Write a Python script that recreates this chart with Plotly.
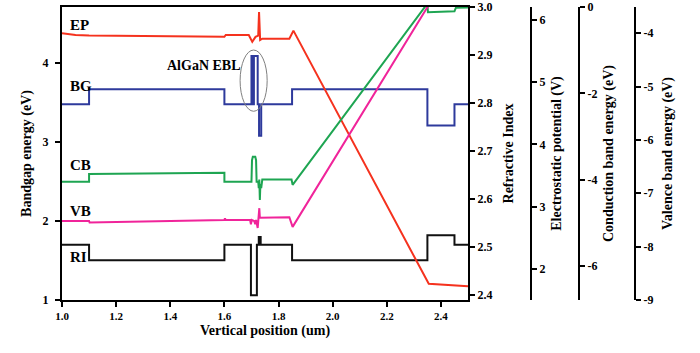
import plotly.graph_objects as go

# ---- data ----
bg_x = [1.0, 1.1, 1.1, 1.6, 1.6, 1.700, 1.700, 1.704, 1.704, 1.709, 1.709, 1.723, 1.723,
        1.728, 1.728, 1.736, 1.736, 1.85, 1.85, 2.35, 2.35, 2.45, 2.45, 2.5]
bg_y = [3.48, 3.48, 3.67, 3.67, 3.48, 3.48, 4.09, 4.09, 3.48, 3.48, 4.09, 4.09, 3.48,
        3.48, 3.08, 3.08, 3.48, 3.48, 3.67, 3.67, 3.21, 3.21, 3.48, 3.48]

ep_x = [1.00, 1.05, 1.10, 1.60, 1.605, 1.69, 1.703, 1.715, 1.725, 1.728, 1.732, 1.74,
        1.84, 1.855, 2.355, 2.45, 2.50]
ep_y = [5.79, 5.76, 5.75, 5.73, 5.76, 5.76, 5.65, 5.73, 5.75, 6.13, 5.68, 5.70,
        5.70, 5.83, 1.76, 1.73, 1.72]

cb_x = [1.0, 1.1, 1.1, 1.6, 1.6, 1.700, 1.702, 1.705, 1.714, 1.717, 1.719, 1.725, 1.727,
        1.729, 1.731, 1.733, 1.736, 1.74, 1.848, 1.852, 2.35, 2.352, 2.45, 2.455, 2.5]
cb_y = [-4.05, -4.05, -3.87, -3.84, -4.05, -4.05, -3.55, -3.47, -3.47, -3.55, -4.05, -4.05, -4.2,
        -4.0, -4.47, -4.1, -4.2, -4.0, -4.0, -4.12, 0.08, -0.12, -0.10, -0.02, -0.01]

vb_x = [1.0, 1.1, 1.102, 1.6, 1.602, 1.605, 1.695, 1.698, 1.701, 1.71, 1.714, 1.717, 1.723,
        1.726, 1.729, 1.731, 1.74, 1.84, 1.852, 2.36]
vb_y = [-7.52, -7.52, -7.55, -7.50, -7.47, -7.50, -7.50, -7.58, -7.50, -7.52, -7.58, -7.50, -7.65,
        -7.50, -7.28, -7.46, -7.46, -7.45, -7.63, -3.43]

ri_x = [1.0, 1.1, 1.1, 1.6, 1.6, 1.698, 1.698, 1.72, 1.72, 1.727, 1.727, 1.729, 1.729,
        1.732, 1.732, 1.734, 1.734, 1.85, 1.85, 2.35, 2.35, 2.45, 2.45, 2.5]
ri_y = [2.505, 2.505, 2.473, 2.473, 2.505, 2.505, 2.40, 2.40, 2.505, 2.505, 2.521, 2.521, 2.505,
        2.505, 2.521, 2.521, 2.505, 2.505, 2.473, 2.473, 2.525, 2.525, 2.505, 2.505]

cb_ticks = [0, -2, -4, -6]
cb_ticklabels = ["0", "-2", "-4", "-6"]
vb_ticks = [-4, -5, -6, -7, -8, -9]
vb_ticklabels = ["-4", "-5", "-6", "-7", "-8", "-9"]

labels = ["EP", "BG", "CB", "VB", "RI"]
label_y = [4.48, 3.71, 2.71, 2.13, 1.54]

FONT = "Liberation Serif"
LW = 2

fig = go.Figure()
fig.add_trace(go.Scatter(x=bg_x, y=bg_y, mode="lines", line=dict(color="#2e3a9c", width=LW), yaxis="y"))
fig.add_trace(go.Scatter(x=ri_x, y=ri_y, mode="lines", line=dict(color="#111111", width=LW), yaxis="y2"))
fig.add_trace(go.Scatter(x=ep_x, y=ep_y, mode="lines", line=dict(color="#f5321e", width=LW), yaxis="y3"))
fig.add_trace(go.Scatter(x=cb_x, y=cb_y, mode="lines", line=dict(color="#1ea552", width=LW), yaxis="y4"))
fig.add_trace(go.Scatter(x=vb_x, y=vb_y, mode="lines", line=dict(color="#f0249a", width=LW), yaxis="y5"))

xtickfont = dict(family=FONT, size=11, color="black", weight="bold")
ytickfont = dict(family=FONT, size=12, color="black", weight="bold")
titlefont = dict(family=FONT, size=14, color="black", weight="bold")
common = dict(showline=True, linecolor="black", linewidth=2, ticks="outside", ticklen=5,
              tickwidth=1.5, tickcolor="black", showgrid=False, zeroline=False,
              automargin=False)

L, R, T, B = 62, 15, 7, 53
W = 700 - L - R
def pos(px):
    return (px - L) / W

fig.update_layout(
    width=700, height=353,
    margin=dict(l=L, r=R, t=T, b=B),
    paper_bgcolor="white", plot_bgcolor="white",
    showlegend=False,
    xaxis=dict(domain=[0, pos(468)], range=[1.0, 2.5], dtick=0.2, tick0=1.0, tickformat=".1f",
               mirror=True, tickfont=xtickfont,
               title=dict(text="Vertical position (um)", font=titlefont, standoff=4),
               **common),
    yaxis=dict(range=[1, 4.71], dtick=1, tickfont=ytickfont, ticklabelstandoff=4,
               title=dict(text="Bandgap energy (eV)", font=titlefont, standoff=8), **common),
    yaxis2=dict(overlaying="y", side="right", anchor="x", range=[2.39, 3.0], dtick=0.1,
                tickformat=".1f", tickfont=ytickfont,
                title=dict(text="Refractive Index", font=titlefont, standoff=12),
                **common),
    yaxis3=dict(overlaying="y", side="right", anchor="free", position=pos(531),
                range=[1.5, 6.21], dtick=1, tickfont=ytickfont,
                title=dict(text="Electrostatic potential (V)", font=titlefont, standoff=6), **common),
    yaxis4=dict(overlaying="y", side="right", anchor="free", position=pos(579),
                range=[-6.79, 0], tickvals=cb_ticks, ticktext=cb_ticklabels, tickfont=ytickfont,
                title=dict(text="Conduction band energy (eV)", font=titlefont, standoff=6), **common),
    yaxis5=dict(overlaying="y", side="right", anchor="free", position=pos(635),
                range=[-9, -3.51], tickvals=vb_ticks, ticktext=vb_ticklabels, tickfont=ytickfont,
                title=dict(text="Valence band energy (eV)", font=titlefont, standoff=9), **common),
)

for t, yv in zip(labels, label_y):
    fig.add_annotation(x=1.022, y=yv, xref="x", yref="y", text=t, showarrow=False,
                       xanchor="left", yanchor="middle",
                       font=dict(family=FONT, size=15, color="black", weight="bold"))

fig.add_annotation(x=1.525, y=3.97, xref="x", yref="y", text="AlGaN EBL", showarrow=False,
                   xanchor="center", yanchor="middle",
                   font=dict(family=FONT, size=14, color="black", weight="bold"))

fig.add_shape(type="circle", xref="x", yref="y", x0=1.658, x1=1.758, y0=3.39, y1=4.165,
              line=dict(color="#808080", width=1))

fig.write_html("out.html", config={"displayModeBar": False},
               post_script="document.body.style.margin='0';")
